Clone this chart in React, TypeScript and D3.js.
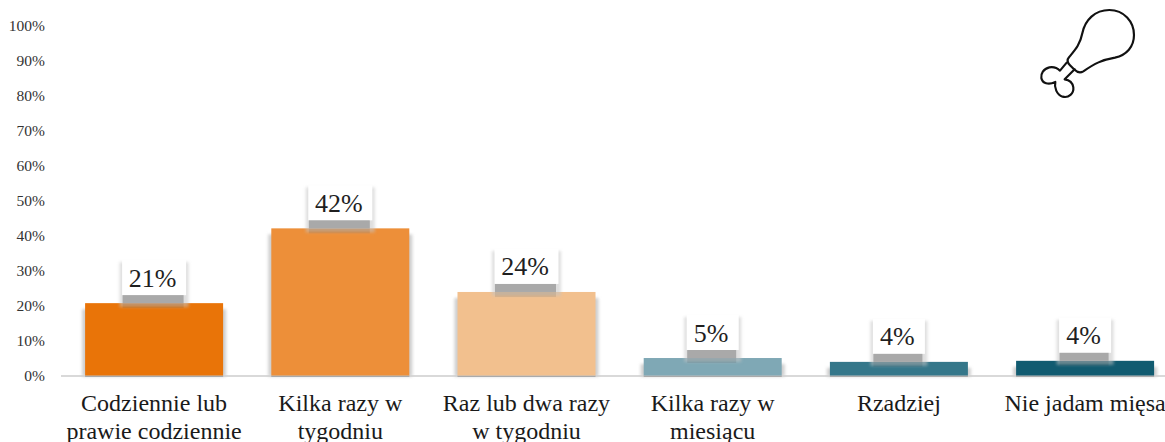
import React from "react";
import * as d3 from "d3";

const categories = [
  ["Codziennie lub", "prawie codziennie"],
  ["Kilka razy w", "tygodniu"],
  ["Raz lub dwa razy", "w tygodniu"],
  ["Kilka razy w", "miesiącu"],
  ["Rzadziej"],
  ["Nie jadam mięsa"],
];
const values = [20.7, 42.1, 23.9, 5.0, 3.9, 4.2];
const labels = ["21%", "42%", "24%", "5%", "4%", "4%"];
const colors = ["#E97408", "#ED8F39", "#F2C08E", "#7FA8B5", "#35778A", "#115B70"];
const ticks = [0, 10, 20, 30, 40, 50, 60, 70, 80, 90, 100];

const W = 1165, H = 442;
const y = d3.scaleLinear().domain([0, 100]).range([375.5, 26]);
const step = 186.2;
const x = d3.scaleBand<number>().domain(d3.range(6)).range([61, 61 + 6 * step]).paddingInner(48.2 / step).paddingOuter(24.1 / step);
const serif = "'Liberation Serif', 'Times New Roman', serif";

export default function App() {
  return (
    <svg width={W} height={H} style={{ position: "absolute", left: 0, top: 0, display: "block" }} fontFamily={serif}>
      <defs>
        <filter id="s1" x="-30%" y="-30%" width="160%" height="160%"><feGaussianBlur stdDeviation="1.8" /></filter>
        <filter id="s2" x="-20%" y="-30%" width="140%" height="160%"><feGaussianBlur stdDeviation="0.5" /></filter>
      </defs>
      <rect width={W} height={H} fill="#fff" />
      {ticks.map((t) => (
        <text key={t} x={45} y={y(t) + 5} textAnchor="end" fontSize={15.5} fill="#333">{t}%</text>
      ))}
      <line x1={61} x2={W} y1={y(0) + 0.5} y2={y(0) + 0.5} stroke="#d9d9d9" strokeWidth={2} />
      {values.map((v, i) => {
        const bx = x(i)!, bw = x.bandwidth(), top = y(v);
        const cx = bx + bw / 2;
        const boxW = labels[i].length > 2 ? 64 : 52;
        const boxH = 35;
        const boxBottom = top - 8;
        const boxTop = boxBottom - boxH;
        const lx = cx - boxW / 2;
        const shTop = Math.min(top + 6, y(0) - 3);
        return (
          <g key={i}>
            <rect x={bx - 3} y={shTop} width={bw + 6} height={y(0) - shTop + 1} fill="#cfcfcf" filter="url(#s1)" />
            <rect x={bx} y={y(0)} width={bw} height={1.5} fill="#aaa" />
            <rect x={bx} y={top} width={bw} height={y(0) - top} fill={colors[i]} />
            <rect x={lx - 2.5} y={boxTop + 2} width={boxW + 5} height={boxH + 10} fill="#c4c4c4" opacity={0.55} filter="url(#s1)" />
            <rect x={lx} y={boxTop} width={boxW} height={boxH} fill="#fff" />
            <rect x={lx + 0.5} y={boxBottom} width={boxW - 3} height={8} fill="#a9a9a9" filter="url(#s2)" />
            <rect x={lx + 0.5} y={top} width={boxW - 3} height={5} fill="#000" opacity={0.08} filter="url(#s2)" />
            <text x={cx - 1.5} y={boxBottom - 8.5} textAnchor="middle" fontSize={26} fill="#1f1f1f">{labels[i]}</text>
            {categories[i].map((line, k) => (
              <text key={k} x={cx} y={411 + k * 27.5} textAnchor="middle" fontSize={24} fill="#1a1a1a">{line}</text>
            ))}
          </g>
        );
      })}
      <g transform="translate(1020,0) scale(0.3333)" fill="none" stroke="#111" strokeWidth={6.5} strokeLinejoin="round" strokeLinecap="round">
        <path d="M147 172 C165 150 180 135 187 100 C195 60 225 30 268 30 C312 30 342 65 342 105 C342 140 320 165 285 173 C245 180 225 190 190 214 C180 220 170 216 162 208 L150 196 C142 188 140 180 147 172 Z" />
        <path d="M140 188 L120 212 C112 204 100 200 88 202 C70 206 62 222 64 234 C67 250 85 256 106 246 C102 262 110 284 128 290 C146 295 162 280 160 262 C158 248 148 240 134 238 L164 208" />
      </g>
    </svg>
  );
}
